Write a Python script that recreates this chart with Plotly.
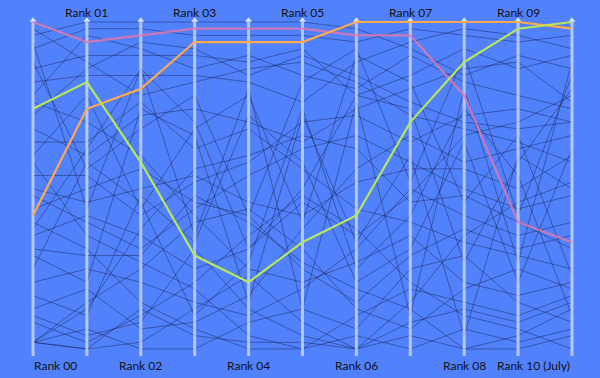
import plotly.graph_objects as go

axes_labels = ["Rank 00", "Rank 01", "Rank 02", "Rank 03", "Rank 04", "Rank 05",
               "Rank 06", "Rank 07", "Rank 08", "Rank 09", "Rank 10 (July)"]

# highlighted series (rank at each axis)
pink = [1, 4, 3, 2, 2, 2, 3, 3, 12, 31, 34]
orange = [30, 14, 11, 4, 4, 4, 1, 1, 1, 1, 2]
green = [14, 10, 22, 36, 40, 34, 30, 16, 7, 2, 1]

# background series
b01 = [3, 1, 1, 1, 1, 1, 2, 5, 9, 6, 8]
b02 = [5, 2, 2, 3, 3, 3, 4, 2, 3, 4, 3]
b03 = [8, 6, 6, 6, 7, 5, 12, 9, 5, 8, 6]
b04 = [10, 9, 9, 9, 10, 13, 7, 4, 2, 3, 5]
b05 = [12, 3, 5, 8, 6, 9, 11, 6, 10, 12, 14]
b06 = [7, 23, 17, 12, 30, 10, 5, 25, 6, 30, 9]
b07 = [15, 8, 4, 5, 9, 6, 9, 13, 16, 17, 16]
b08 = [17, 21, 15, 14, 16, 19, 14, 11, 8, 7, 13]
b09 = [19, 19, 13, 20, 17, 23, 29, 31, 34, 36, 38]
b10 = [24, 24, 30, 25, 22, 16, 15, 19, 15, 14, 16]
b11 = [21, 12, 29, 17, 12, 31, 6, 10, 28, 18, 39]
b12 = [26, 28, 26, 24, 28, 30, 25, 23, 23, 26, 21]
b13 = [27, 31, 35, 29, 24, 20, 18, 22, 26, 29, 27]
b14 = [32, 20, 8, 16, 35, 26, 12, 14, 37, 22, 11]
b15 = [33, 30, 33, 38, 35, 28, 33, 27, 18, 16, 12]
b16 = [35, 36, 36, 27, 31, 37, 41, 44, 50, 48, 44]
b17 = [38, 22, 28, 45, 37, 14, 38, 30, 14, 24, 45]
b18 = [40, 38, 40, 43, 45, 41, 35, 26, 30, 33, 31]
b19 = [42, 45, 27, 34, 15, 22, 40, 35, 19, 40, 20]
b20 = [44, 41, 47, 46, 42, 32, 23, 18, 22, 20, 18]
b21 = [46, 49, 45, 40, 33, 27, 32, 40, 45, 47, 50]
b22 = [49, 43, 38, 31, 29, 35, 44, 47, 41, 38, 41]
b23 = [49, 50, 44, 48, 49, 49, 50, 43, 33, 28, 25]
b24 = [49, 47, 50, 50, 46, 44, 47, 38, 36, 43, 46]
b25 = [49, 50, 49, 44, 39, 46, 50, 48, 50, 50, 48]
b26 = [49, 44, 32, 23, 21, 18, 20, 28, 27, 31, 35]
b27 = [36, 40, 14, 18, 43, 15, 34, 21, 48, 21, 26]
b28 = [29, 26, 23, 28, 30, 38, 43, 36, 32, 35, 33]
b29 = [22, 33, 37, 41, 48, 50, 45, 41, 43, 45, 42]
b30 = [13, 16, 21, 30, 38, 40, 37, 33, 40, 42, 40]
b31 = [31, 35, 43, 47, 50, 50, 48, 50, 47, 49, 47]
b32 = [2, 7, 12, 10, 8, 7, 10, 15, 17, 19, 22]
b33 = [4, 29, 8, 33, 11, 44, 13, 45, 11, 37, 7]
b34 = [45, 48, 46, 35, 44, 48, 50, 46, 44, 46, 43]

background = [b01, b02, b03, b04, b05, b06, b07, b08, b09, b10, b11, b12, b13, b14,
              b15, b16, b17, b18, b19, b20, b21, b22, b23, b24, b25, b26, b27, b28,
              b29, b30, b31, b32, b33, b34]

xs = list(range(len(axes_labels)))
fig = go.Figure()

for s in background:
    fig.add_trace(go.Scatter(x=xs, y=s, mode="lines",
                             line=dict(color="rgba(20,28,70,0.42)", width=1),
                             hoverinfo="skip", showlegend=False))

# axes
for i in xs:
    fig.add_trace(go.Scatter(x=[i, i], y=[51.05, 1], mode="lines",
                             line=dict(color="rgba(225,232,255,0.7)", width=3),
                             hoverinfo="skip", showlegend=False))
    fig.add_trace(go.Scatter(x=[i], y=[0.75], mode="markers",
                             marker=dict(symbol="triangle-up", size=6,
                                         color="rgba(235,240,255,0.9)", line=dict(width=0)),
                             hoverinfo="skip", showlegend=False))

for s, c in [(pink, "rgba(222,120,170,0.85)"), (orange, "#ffa94f"), (green, "#b8e65a")]:
    fig.add_trace(go.Scatter(x=xs, y=s, mode="lines",
                             line=dict(color=c, width=2.2),
                             hoverinfo="skip", showlegend=False))

for i, lab in enumerate(axes_labels):
    top = (i % 2 == 1)
    xanchor = "center"
    if i == 0:
        xanchor = "left"
    elif i == len(axes_labels) - 1:
        xanchor = "right"
    fig.add_annotation(x=i, y=0.968 if top else 0.032, xref="x", yref="paper",
                       text=lab, showarrow=False, xanchor=xanchor, yanchor="middle",
                       xshift=-1 if i == 0 else 0,
                       font=dict(family="Lato", size=12, color="#111111"))

fig.update_layout(
    width=600, height=378,
    margin=dict(l=0, r=0, t=0, b=0),
    paper_bgcolor="#5181fb", plot_bgcolor="#5181fb",
    xaxis=dict(range=[-0.612, 10.52], visible=False, fixedrange=True),
    yaxis=dict(range=[54.35, -2.30], visible=False, fixedrange=True),
    showlegend=False,
)

fig.write_html("out.html", config={"displayModeBar": False},
               post_script="document.body.style.margin='0';document.body.style.padding='0';"
                           "document.body.style.overflow='hidden';"
                           "document.documentElement.style.overflow='hidden';")
